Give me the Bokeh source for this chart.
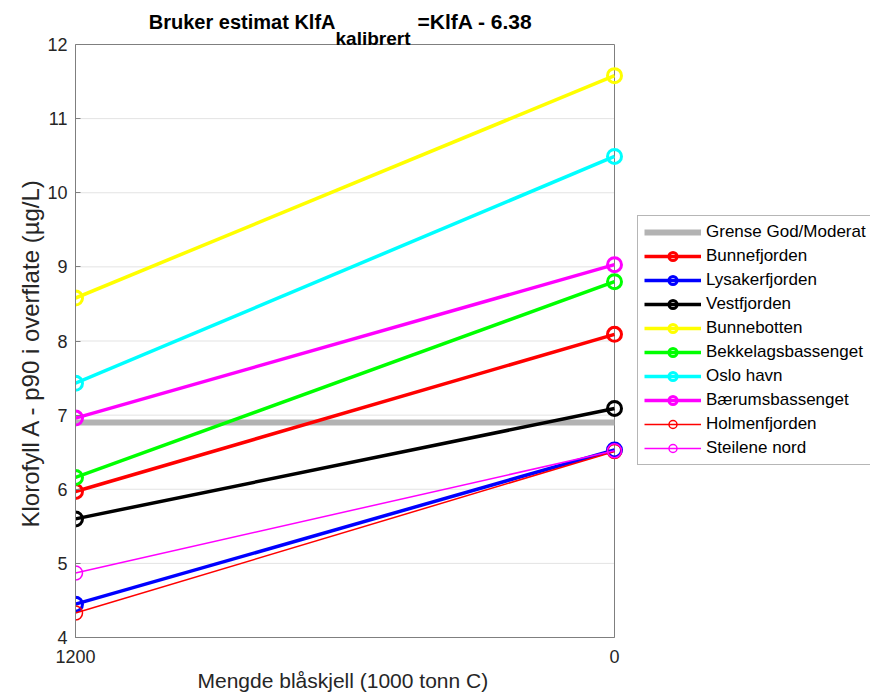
from bokeh.plotting import figure
from bokeh.models import (Range1d, FixedTicker, Legend, LegendItem, Label, Title)
from bokeh.embed import file_html
from bokeh.resources import INLINE

# ---- data ----
x_vals = [1200, 0]
x_ticks = [1200, 0]
y_ticks = [4, 5, 6, 7, 8, 9, 10, 11, 12]
grense_label = "Grense God/Moderat"
grense_value = 6.9

names = ["Bunnefjorden", "Lysakerfjorden", "Vestfjorden", "Bunnebotten",
         "Bekkelagsbassenget", "Oslo havn", "Bærumsbassenget",
         "Holmenfjorden", "Steilene nord"]
start_vals = [5.97, 4.45, 5.60, 8.58, 6.16, 7.43, 6.96, 4.33, 4.87]
end_vals = [8.09, 6.53, 7.09, 11.58, 8.80, 10.49, 9.03, 6.51, 6.52]
colors = ["#ff0000", "#0000ff", "#000000", "#ffff00", "#00ff00",
          "#00ffff", "#ff00ff", "#ff0000", "#ff00ff"]
thick = [True, True, True, True, True, True, True, False, False]

x_label = "Mengde blåskjell (1000 tonn C)"
y_label = "Klorofyll A - p90 i overflate (µg/L)"

FONT = "Liberation Sans"
TXT = "#262626"
AX = "#7f7f7f"

# layout: axes box spans px 75..614 (x) and 44..637 (y); the frame is
# extended to the right and top so that legend and title can live in it.
W, H = 870, 695
BOX_L, BOX_R, BOX_T, BOX_B = 75, 614, 44, 637
xmax, xmin = max(x_ticks), min(x_ticks)
ylo, yhi = y_ticks[0], y_ticks[-1]
x_per_px = (xmax - xmin) / (BOX_R - BOX_L)
y_per_px = (yhi - ylo) / (BOX_B - BOX_T)
x_end = xmin - (W - BOX_R) * x_per_px
y_end = yhi + BOX_T * y_per_px

p = figure(width=W, height=H, output_backend="svg", toolbar_location=None,
           x_range=Range1d(xmax, x_end), y_range=Range1d(ylo, y_end),
           min_border_left=BOX_L, min_border_right=0,
           min_border_top=0, min_border_bottom=H - BOX_B)
p.background_fill_color = "white"
p.border_fill_color = "white"
p.outline_line_color = None

p.xaxis.ticker = FixedTicker(ticks=x_ticks)
p.yaxis.ticker = FixedTicker(ticks=y_ticks)
p.xaxis.bounds = (xmin, xmax)
p.yaxis.bounds = (ylo, yhi)
for ax in (p.xaxis[0], p.yaxis[0]):
    ax.axis_line_color = AX
    ax.major_tick_line_color = AX
    ax.major_tick_in = 5
    ax.major_tick_out = 0
    ax.minor_tick_line_color = None
    ax.major_label_text_font = FONT
    ax.major_label_text_font_size = "18px"
    ax.major_label_text_color = TXT
p.xaxis.major_label_standoff = 12
p.yaxis.major_label_standoff = 8

# axis titles as side-panel titles so they can be offset like the reference
xt = Title(text=x_label, align="left", offset=197 - BOX_L, standoff=2,
           text_font=FONT, text_font_size="21px", text_font_style="normal",
           text_color=TXT)
p.add_layout(xt, "below")
yt = Title(text=y_label, align="left", offset=BOX_B - 527, standoff=2,
           text_font=FONT, text_font_size="24px", text_font_style="normal",
           text_color=TXT)
p.add_layout(yt, "left")

p.xgrid.grid_line_color = None
p.ygrid.grid_line_color = None

# grid lines and the axes box
inner = y_ticks[1:-1]
p.segment(x0=[xmax] * len(inner), x1=[xmin] * len(inner), y0=inner, y1=inner,
          line_color="#e3e3e3", line_width=1)
p.quad(left=[xmin], right=[xmax], bottom=[ylo], top=[yhi],
       fill_color=None, line_color=AX, line_width=1)

items = []
g = p.line(x_vals, [grense_value, grense_value], line_color="#b3b3b3", line_width=6)
items.append(LegendItem(label=grense_label, renderers=[g]))

for n, s, e, c, t in zip(names, start_vals, end_vals, colors, thick):
    lw = 3.5 if t else 1.5
    ml = 3 if t else 1.5
    ln = p.line(x_vals, [s, e], line_color=c, line_width=lw)
    sc = p.scatter(x_vals, [s, e], marker="circle", size=14, fill_color=None,
                   line_color=c, line_width=ml)
    items.append(LegendItem(label=n, renderers=[ln, sc]))

leg = Legend(items=items, location=(637 - BOX_L, BOX_B - 465))
leg.label_text_font = FONT
leg.label_text_font_size = "17px"
leg.label_text_color = "#000000"
leg.label_height = 20
leg.glyph_height = 20
leg.glyph_width = 57
leg.spacing = 4
leg.padding = 6
leg.margin = 0
leg.label_standoff = 5
leg.border_line_color = "#6e6e6e"
leg.border_line_width = 1
leg.background_fill_color = "white"
leg.background_fill_alpha = 1
p.add_layout(leg, "center")

# title made of pieces (main, subscript, rest); frame-relative screen units
t1 = Label(x=335 - BOX_L, y=BOX_B - 21, x_units="screen", y_units="screen",
           text="Bruker estimat KlfA",
           text_font=FONT, text_font_size="20px", text_font_style="bold",
           text_align="right", text_baseline="alphabetic", text_color="#000000")
t2 = Label(x=335 - BOX_L, y=BOX_B - 38, x_units="screen", y_units="screen",
           text="kalibrert",
           text_font=FONT, text_font_size="19px", text_font_style="bold",
           text_align="left", text_baseline="alphabetic", text_color="#000000")
t3 = Label(x=417 - BOX_L, y=BOX_B - 21, x_units="screen", y_units="screen",
           text="=KlfA - 6.38",
           text_font=FONT, text_font_size="21px", text_font_style="bold",
           text_align="left", text_baseline="alphabetic", text_color="#000000")
for t in (t1, t2, t3):
    p.add_layout(t)

open("out.html", "w").write(file_html(p, INLINE))
